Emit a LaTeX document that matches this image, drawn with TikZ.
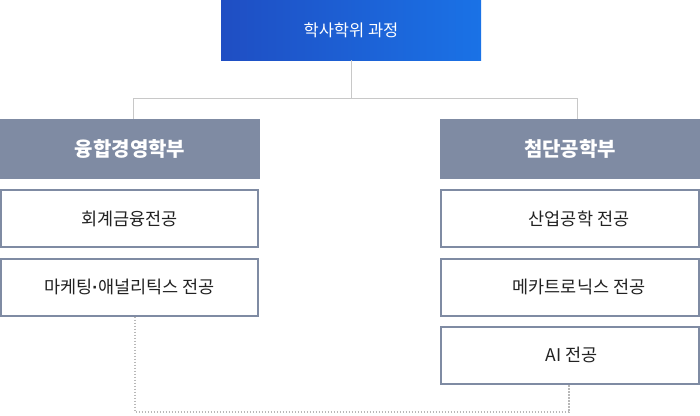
\documentclass[tikz,border=0pt]{standalone}
\usepackage{fontspec}
\setmainfont{Noto Sans CJK KR}
\newfontfamily\dotfont{Liberation Sans}
\usetikzlibrary{positioning}

\definecolor{topL}{HTML}{1F4EC3}
\definecolor{topR}{HTML}{1A72E6}
\definecolor{deptc}{HTML}{7F8BA3}
\definecolor{linec}{HTML}{C8C8C8}
\definecolor{dotc}{HTML}{B8B8B8}
\definecolor{txtc}{HTML}{222222}

\begin{document}
\begin{tikzpicture}[x=1pt,y=-1pt,
   course/.style={draw=deptc,line width=2pt,fill=white,minimum height=57pt,text=txtc,font=\fontsize{17.5}{20}\selectfont},
   dept/.style={fill=deptc,minimum width=260pt,minimum height=60pt,text=white,font=\fontsize{20}{23}\selectfont\bfseries},
   link/.style={draw=linec,line width=1pt},
   loopline/.style={draw=dotc,line width=1.5pt,dash pattern=on 1.5pt off 1.5pt}]

   \useasboundingbox (0,0) rectangle (700,415);

   % Nodes
      \node[shading=axis,left color=topL,right color=topR,minimum width=260pt,minimum height=60pt,
            text=white,font=\fontsize{16.5}{19}\selectfont] (top) at (351,30) {학사학위 과정};
      \node[dept]  (dA)  at (130,149)   {융합경영학부};
      \node[dept]  (dB)  at (570,149)   {첨단공학부};

      \node[course,minimum width=257pt]  (fin)  at (129.5,218.5)  {회계금융전공};
      \node[course,minimum width=257pt]  (mkt)  at (129.5,287)    {마케팅{\dotfont\bfseries ·}애널리틱스 전공};
      \node[course,minimum width=258pt]  (ie)   at (570,218.5)    {\hspace{18pt}산업공학 전공};
      \node[course,minimum width=258pt]  (mec)  at (570,287)      {\hspace{18pt}메카트로닉스 전공};
      \node[course,minimum width=258pt]  (ai)   at (570,355)      {\hspace{3pt}AI 전공};

      \coordinate (hub)  at (351,98);
      \coordinate (base) at (351,412);

   % Paths
      \path[link] (top.south) -- (hub);
      \path[link] (hub) -| ([xshift=3pt]dA.north);
      \path[link] (hub) -| ([xshift=7pt]dB.north);
      \path[loopline] ([xshift=5.5pt]mkt.south) |- (base) -| ([xshift=-1pt]ai.south);
   \end{tikzpicture}
\end{document}
